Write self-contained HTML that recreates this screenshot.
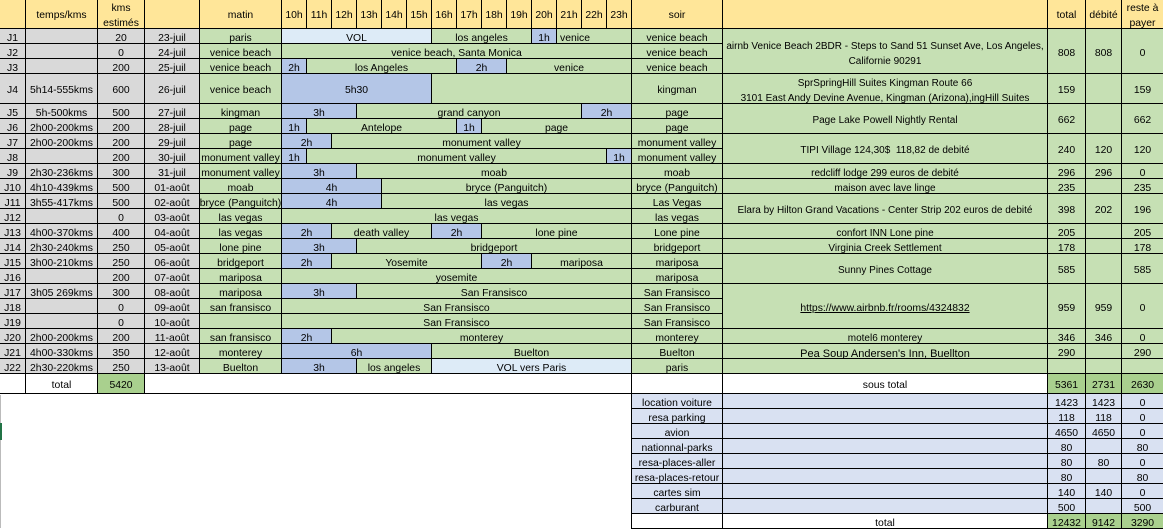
<!DOCTYPE html>
<html><head><meta charset="utf-8">
<style>
body{margin:0;background:#fff;width:1163px;height:528px;overflow:hidden;position:relative}
.g{display:grid;grid-template-columns:26px 72px 47px 55px 82px repeat(14,25px) 91px 325px 38px 36px 41px;grid-template-rows:29px 15px 15px 15px 30px repeat(18,15px) 20px repeat(8,15px) 15px;position:absolute;left:0;top:0;font-family:"Liberation Sans",Arial,sans-serif;font-size:10.4px;color:#000}
.g>div{box-sizing:border-box;border-right:1px solid #000;border-bottom:1px solid #000;display:flex;align-items:center;justify-content:center;white-space:nowrap;line-height:12px;padding-top:5px}
.g span{display:block;text-align:center;line-height:15px}
.h{background:#ffe699}.y{background:#d9d9d9}.e{background:#c6e0b4}.b{background:#b4c6e7}.l{background:#ddebf7}.d{background:#a9d08e}.v{background:#d9e1f2}
.g>div.nr{border-right:none}
.g>div.h{padding-top:3px}
.t{font-size:10px}
</style></head><body>
<div class="g">
<!-- header -->
<div class="h" style="grid-area:1/1/2/2"></div>
<div class="h" style="grid-area:1/2/2/3">temps/kms</div>
<div class="h" style="grid-area:1/3/2/4"><span>kms<br>estimés</span></div>
<div class="h" style="grid-area:1/4/2/5"></div>
<div class="h" style="grid-area:1/5/2/6">matin</div>
<div class="h" style="grid-area:1/6/2/7">10h</div>
<div class="h" style="grid-area:1/7/2/8">11h</div>
<div class="h" style="grid-area:1/8/2/9">12h</div>
<div class="h" style="grid-area:1/9/2/10">13h</div>
<div class="h" style="grid-area:1/10/2/11">14h</div>
<div class="h" style="grid-area:1/11/2/12">15h</div>
<div class="h" style="grid-area:1/12/2/13">16h</div>
<div class="h" style="grid-area:1/13/2/14">17h</div>
<div class="h" style="grid-area:1/14/2/15">18h</div>
<div class="h" style="grid-area:1/15/2/16">19h</div>
<div class="h" style="grid-area:1/16/2/17">20h</div>
<div class="h" style="grid-area:1/17/2/18">21h</div>
<div class="h" style="grid-area:1/18/2/19">22h</div>
<div class="h" style="grid-area:1/19/2/20">23h</div>
<div class="h" style="grid-area:1/20/2/21">soir</div>
<div class="h" style="grid-area:1/21/2/22"></div>
<div class="h" style="grid-area:1/22/2/23">total</div>
<div class="h" style="grid-area:1/23/2/24">débité</div>
<div class="h nr" style="grid-area:1/24/2/25"><span>reste à<br>payer</span></div>

<!-- left gray columns -->
<div class="y" style="grid-area:2/1/3/2">J1</div><div class="y" style="grid-area:2/2/3/3"></div><div class="y" style="grid-area:2/3/3/4">20</div><div class="y" style="grid-area:2/4/3/5">23-juil</div><div class="e" style="grid-area:2/5/3/6">paris</div>
<div class="y" style="grid-area:3/1/4/2">J2</div><div class="y" style="grid-area:3/2/4/3"></div><div class="y" style="grid-area:3/3/4/4">0</div><div class="y" style="grid-area:3/4/4/5">24-juil</div><div class="e" style="grid-area:3/5/4/6">venice beach</div>
<div class="y" style="grid-area:4/1/5/2">J3</div><div class="y" style="grid-area:4/2/5/3"></div><div class="y" style="grid-area:4/3/5/4">200</div><div class="y" style="grid-area:4/4/5/5">25-juil</div><div class="e" style="grid-area:4/5/5/6">venice beach</div>
<div class="y" style="grid-area:5/1/6/2">J4</div><div class="y" style="grid-area:5/2/6/3">5h14-555kms</div><div class="y" style="grid-area:5/3/6/4">600</div><div class="y" style="grid-area:5/4/6/5">26-juil</div><div class="e" style="grid-area:5/5/6/6">venice beach</div>
<div class="y" style="grid-area:6/1/7/2">J5</div><div class="y" style="grid-area:6/2/7/3">5h-500kms</div><div class="y" style="grid-area:6/3/7/4">500</div><div class="y" style="grid-area:6/4/7/5">27-juil</div><div class="e" style="grid-area:6/5/7/6">kingman</div>
<div class="y" style="grid-area:7/1/8/2">J6</div><div class="y" style="grid-area:7/2/8/3">2h00-200kms</div><div class="y" style="grid-area:7/3/8/4">200</div><div class="y" style="grid-area:7/4/8/5">28-juil</div><div class="e" style="grid-area:7/5/8/6">page</div>
<div class="y" style="grid-area:8/1/9/2">J7</div><div class="y" style="grid-area:8/2/9/3">2h00-200kms</div><div class="y" style="grid-area:8/3/9/4">200</div><div class="y" style="grid-area:8/4/9/5">29-juil</div><div class="e" style="grid-area:8/5/9/6">page</div>
<div class="y" style="grid-area:9/1/10/2">J8</div><div class="y" style="grid-area:9/2/10/3"></div><div class="y" style="grid-area:9/3/10/4">200</div><div class="y" style="grid-area:9/4/10/5">30-juil</div><div class="e" style="grid-area:9/5/10/6">monument valley</div>
<div class="y" style="grid-area:10/1/11/2">J9</div><div class="y" style="grid-area:10/2/11/3">2h30-236kms</div><div class="y" style="grid-area:10/3/11/4">300</div><div class="y" style="grid-area:10/4/11/5">31-juil</div><div class="e" style="grid-area:10/5/11/6">monument valley</div>
<div class="y" style="grid-area:11/1/12/2">J10</div><div class="y" style="grid-area:11/2/12/3">4h10-439kms</div><div class="y" style="grid-area:11/3/12/4">500</div><div class="y" style="grid-area:11/4/12/5">01-août</div><div class="e" style="grid-area:11/5/12/6">moab</div>
<div class="y" style="grid-area:12/1/13/2">J11</div><div class="y" style="grid-area:12/2/13/3">3h55-417kms</div><div class="y" style="grid-area:12/3/13/4">500</div><div class="y" style="grid-area:12/4/13/5">02-août</div><div class="e" style="grid-area:12/5/13/6">bryce (Panguitch)</div>
<div class="y" style="grid-area:13/1/14/2">J12</div><div class="y" style="grid-area:13/2/14/3"></div><div class="y" style="grid-area:13/3/14/4">0</div><div class="y" style="grid-area:13/4/14/5">03-août</div><div class="e" style="grid-area:13/5/14/6">las vegas</div>
<div class="y" style="grid-area:14/1/15/2">J13</div><div class="y" style="grid-area:14/2/15/3">4h00-370kms</div><div class="y" style="grid-area:14/3/15/4">400</div><div class="y" style="grid-area:14/4/15/5">04-août</div><div class="e" style="grid-area:14/5/15/6">las vegas</div>
<div class="y" style="grid-area:15/1/16/2">J14</div><div class="y" style="grid-area:15/2/16/3">2h30-240kms</div><div class="y" style="grid-area:15/3/16/4">250</div><div class="y" style="grid-area:15/4/16/5">05-août</div><div class="e" style="grid-area:15/5/16/6">lone pine</div>
<div class="y" style="grid-area:16/1/17/2">J15</div><div class="y" style="grid-area:16/2/17/3">3h00-210kms</div><div class="y" style="grid-area:16/3/17/4">250</div><div class="y" style="grid-area:16/4/17/5">06-août</div><div class="e" style="grid-area:16/5/17/6">bridgeport</div>
<div class="y" style="grid-area:17/1/18/2">J16</div><div class="y" style="grid-area:17/2/18/3"></div><div class="y" style="grid-area:17/3/18/4">200</div><div class="y" style="grid-area:17/4/18/5">07-août</div><div class="e" style="grid-area:17/5/18/6">mariposa</div>
<div class="y" style="grid-area:18/1/19/2">J17</div><div class="y" style="grid-area:18/2/19/3">3h05 269kms</div><div class="y" style="grid-area:18/3/19/4">300</div><div class="y" style="grid-area:18/4/19/5">08-août</div><div class="e" style="grid-area:18/5/19/6">mariposa</div>
<div class="y" style="grid-area:19/1/20/2">J18</div><div class="y" style="grid-area:19/2/20/3"></div><div class="y" style="grid-area:19/3/20/4">0</div><div class="y" style="grid-area:19/4/20/5">09-août</div><div class="e" style="grid-area:19/5/20/6">san fransisco</div>
<div class="y" style="grid-area:20/1/21/2">J19</div><div class="y" style="grid-area:20/2/21/3"></div><div class="y" style="grid-area:20/3/21/4">0</div><div class="y" style="grid-area:20/4/21/5">10-août</div><div class="e" style="grid-area:20/5/21/6"></div>
<div class="y" style="grid-area:21/1/22/2">J20</div><div class="y" style="grid-area:21/2/22/3">2h00-200kms</div><div class="y" style="grid-area:21/3/22/4">200</div><div class="y" style="grid-area:21/4/22/5">11-août</div><div class="e" style="grid-area:21/5/22/6">san fransisco</div>
<div class="y" style="grid-area:22/1/23/2">J21</div><div class="y" style="grid-area:22/2/23/3">4h00-330kms</div><div class="y" style="grid-area:22/3/23/4">350</div><div class="y" style="grid-area:22/4/23/5">12-août</div><div class="e" style="grid-area:22/5/23/6">monterey</div>
<div class="y" style="grid-area:23/1/24/2">J22</div><div class="y" style="grid-area:23/2/24/3">2h30-220kms</div><div class="y" style="grid-area:23/3/24/4">250</div><div class="y" style="grid-area:23/4/24/5">13-août</div><div class="e" style="grid-area:23/5/24/6">Buelton</div>

<!-- hours -->
<div class="l" style="grid-area:2/6/3/12">VOL</div><div class="e" style="grid-area:2/12/3/16">los angeles</div><div class="b" style="grid-area:2/16/3/17">1h</div><div class="e" style="grid-area:2/17/3/20;justify-content:flex-start;padding-left:3px">venice</div>
<div class="e" style="grid-area:3/6/4/20">venice beach, Santa Monica</div>
<div class="b" style="grid-area:4/6/5/7">2h</div><div class="e" style="grid-area:4/7/5/13">los Angeles</div><div class="b" style="grid-area:4/13/5/15">2h</div><div class="e" style="grid-area:4/15/5/20">venice</div>
<div class="b" style="grid-area:5/6/6/12">5h30</div><div class="e" style="grid-area:5/12/6/20"></div>
<div class="b" style="grid-area:6/6/7/9">3h</div><div class="e" style="grid-area:6/9/7/18">grand canyon</div><div class="b" style="grid-area:6/18/7/20">2h</div>
<div class="b" style="grid-area:7/6/8/7">1h</div><div class="e" style="grid-area:7/7/8/13">Antelope</div><div class="b" style="grid-area:7/13/8/14">1h</div><div class="e" style="grid-area:7/14/8/20">page</div>
<div class="b" style="grid-area:8/6/9/8">2h</div><div class="e" style="grid-area:8/8/9/20">monument valley</div>
<div class="b" style="grid-area:9/6/10/7">1h</div><div class="e" style="grid-area:9/7/10/19">monument valley</div><div class="b" style="grid-area:9/19/10/20">1h</div>
<div class="b" style="grid-area:10/6/11/9">3h</div><div class="e" style="grid-area:10/9/11/20">moab</div>
<div class="b" style="grid-area:11/6/12/10">4h</div><div class="e" style="grid-area:11/10/12/20">bryce (Panguitch)</div>
<div class="b" style="grid-area:12/6/13/10">4h</div><div class="e" style="grid-area:12/10/13/20">las vegas</div>
<div class="e" style="grid-area:13/6/14/20">las vegas</div>
<div class="b" style="grid-area:14/6/15/8">2h</div><div class="e" style="grid-area:14/8/15/12">death valley</div><div class="b" style="grid-area:14/12/15/14">2h</div><div class="e" style="grid-area:14/14/15/20">lone pine</div>
<div class="b" style="grid-area:15/6/16/9">3h</div><div class="e" style="grid-area:15/9/16/20">bridgeport</div>
<div class="b" style="grid-area:16/6/17/8">2h</div><div class="e" style="grid-area:16/8/17/14">Yosemite</div><div class="b" style="grid-area:16/14/17/16">2h</div><div class="e" style="grid-area:16/16/17/20">mariposa</div>
<div class="e" style="grid-area:17/6/18/20">yosemite</div>
<div class="b" style="grid-area:18/6/19/9">3h</div><div class="e" style="grid-area:18/9/19/20">San Fransisco</div>
<div class="e" style="grid-area:19/6/20/20">San Fransisco</div>
<div class="e" style="grid-area:20/6/21/20">San Fransisco</div>
<div class="b" style="grid-area:21/6/22/8">2h</div><div class="e" style="grid-area:21/8/22/20">monterey</div>
<div class="b" style="grid-area:22/6/23/12">6h</div><div class="e" style="grid-area:22/12/23/20">Buelton</div>
<div class="b" style="grid-area:23/6/24/9">3h</div><div class="e" style="grid-area:23/9/24/12">los angeles</div><div class="l" style="grid-area:23/12/24/20">VOL vers Paris</div>

<!-- soir -->
<div class="e" style="grid-area:2/20/3/21">venice beach</div>
<div class="e" style="grid-area:3/20/4/21">venice beach</div>
<div class="e" style="grid-area:4/20/5/21">venice beach</div>
<div class="e" style="grid-area:5/20/6/21">kingman</div>
<div class="e" style="grid-area:6/20/7/21">page</div>
<div class="e" style="grid-area:7/20/8/21">page</div>
<div class="e" style="grid-area:8/20/9/21">monument valley</div>
<div class="e" style="grid-area:9/20/10/21">monument valley</div>
<div class="e" style="grid-area:10/20/11/21">moab</div>
<div class="e" style="grid-area:11/20/12/21">bryce (Panguitch)</div>
<div class="e" style="grid-area:12/20/13/21">Las Vegas</div>
<div class="e" style="grid-area:13/20/14/21">las vegas</div>
<div class="e" style="grid-area:14/20/15/21">Lone pine</div>
<div class="e" style="grid-area:15/20/16/21">bridgeport</div>
<div class="e" style="grid-area:16/20/17/21">mariposa</div>
<div class="e" style="grid-area:17/20/18/21">mariposa</div>
<div class="e" style="grid-area:18/20/19/21">San Fransisco</div>
<div class="e" style="grid-area:19/20/20/21">San Fransisco</div>
<div class="e" style="grid-area:20/20/21/21">San Fransisco</div>
<div class="e" style="grid-area:21/20/22/21">monterey</div>
<div class="e" style="grid-area:22/20/23/21">Buelton</div>
<div class="e" style="grid-area:23/20/24/21">paris</div>

<!-- hotels -->
<div class="e t" style="grid-area:2/21/5/22"><span>airnb Venice Beach 2BDR - Steps to Sand 51 Sunset Ave, Los Angeles,<br>Californie 90291</span></div>
<div class="e" style="grid-area:2/22/5/23">808</div><div class="e" style="grid-area:2/23/5/24">808</div><div class="e nr" style="grid-area:2/24/5/25">0</div>
<div class="e t" style="grid-area:5/21/6/22"><span>SprSpringHill Suites Kingman Route 66<br>3101 East Andy Devine Avenue, Kingman (Arizona),ingHill Suites</span></div>
<div class="e" style="grid-area:5/22/6/23">159</div><div class="e" style="grid-area:5/23/6/24"></div><div class="e nr" style="grid-area:5/24/6/25">159</div>
<div class="e t" style="grid-area:6/21/8/22">Page Lake Powell Nightly Rental</div>
<div class="e" style="grid-area:6/22/8/23">662</div><div class="e" style="grid-area:6/23/8/24"></div><div class="e nr" style="grid-area:6/24/8/25">662</div>
<div class="e t" style="grid-area:8/21/10/22">TIPI Village 124,30$&nbsp; 118,82 de debité</div>
<div class="e" style="grid-area:8/22/10/23">240</div><div class="e" style="grid-area:8/23/10/24">120</div><div class="e nr" style="grid-area:8/24/10/25">120</div>
<div class="e t" style="grid-area:10/21/11/22">redcliff lodge 299 euros de debité</div>
<div class="e" style="grid-area:10/22/11/23">296</div><div class="e" style="grid-area:10/23/11/24">296</div><div class="e nr" style="grid-area:10/24/11/25">0</div>
<div class="e t" style="grid-area:11/21/12/22">maison avec lave linge</div>
<div class="e" style="grid-area:11/22/12/23">235</div><div class="e" style="grid-area:11/23/12/24"></div><div class="e nr" style="grid-area:11/24/12/25">235</div>
<div class="e t" style="grid-area:12/21/14/22">Elara by Hilton Grand Vacations - Center Strip 202 euros de debité</div>
<div class="e" style="grid-area:12/22/14/23">398</div><div class="e" style="grid-area:12/23/14/24">202</div><div class="e nr" style="grid-area:12/24/14/25">196</div>
<div class="e t" style="grid-area:14/21/15/22">confort INN Lone pine</div>
<div class="e" style="grid-area:14/22/15/23">205</div><div class="e" style="grid-area:14/23/15/24"></div><div class="e nr" style="grid-area:14/24/15/25">205</div>
<div class="e t" style="grid-area:15/21/16/22">Virginia Creek Settlement</div>
<div class="e" style="grid-area:15/22/16/23">178</div><div class="e" style="grid-area:15/23/16/24"></div><div class="e nr" style="grid-area:15/24/16/25">178</div>
<div class="e t" style="grid-area:16/21/18/22">Sunny Pines Cottage</div>
<div class="e" style="grid-area:16/22/18/23">585</div><div class="e" style="grid-area:16/23/18/24"></div><div class="e nr" style="grid-area:16/24/18/25">585</div>
<div class="e" style="grid-area:18/21/21/22;text-decoration:underline">https://www.airbnb.fr/rooms/4324832</div>
<div class="e" style="grid-area:18/22/21/23">959</div><div class="e" style="grid-area:18/23/21/24">959</div><div class="e nr" style="grid-area:18/24/21/25">0</div>
<div class="e t" style="grid-area:21/21/22/22">motel6 monterey</div>
<div class="e" style="grid-area:21/22/22/23">346</div><div class="e" style="grid-area:21/23/22/24">346</div><div class="e nr" style="grid-area:21/24/22/25">0</div>
<div class="e" style="grid-area:22/21/23/22;font-size:11px">Pea Soup Andersen's Inn, Buellton</div>
<div class="e" style="grid-area:22/22/23/23">290</div><div class="e" style="grid-area:22/23/23/24"></div><div class="e nr" style="grid-area:22/24/23/25">290</div>
<div class="e" style="grid-area:23/21/24/22"></div>
<div class="e" style="grid-area:23/22/24/23"></div><div class="e" style="grid-area:23/23/24/24"></div><div class="e nr" style="grid-area:23/24/24/25"></div>

<!-- total row -->
<div style="grid-area:24/1/25/2"></div>
<div style="grid-area:24/2/25/3">total</div>
<div class="d" style="grid-area:24/3/25/4">5420</div>
<div style="grid-area:24/4/25/20"></div>
<div style="grid-area:24/20/25/21"></div>
<div style="grid-area:24/21/25/22">sous total</div>
<div class="d" style="grid-area:24/22/25/23">5361</div>
<div class="d" style="grid-area:24/23/25/24">2731</div>
<div class="d nr" style="grid-area:24/24/25/25">2630</div>

<!-- lower section -->
<div style="grid-area:25/1/35/20;border-bottom:none"></div>
<div class="v" style="grid-area:25/20/26/21">location voiture</div><div class="v" style="grid-area:25/21/26/22"></div><div class="v" style="grid-area:25/22/26/23">1423</div><div class="v" style="grid-area:25/23/26/24">1423</div><div class="v nr" style="grid-area:25/24/26/25">0</div>
<div class="v" style="grid-area:26/20/27/21">resa parking</div><div class="v" style="grid-area:26/21/27/22"></div><div class="v" style="grid-area:26/22/27/23">118</div><div class="v" style="grid-area:26/23/27/24">118</div><div class="v nr" style="grid-area:26/24/27/25">0</div>
<div class="v" style="grid-area:27/20/28/21">avion</div><div class="v" style="grid-area:27/21/28/22"></div><div class="v" style="grid-area:27/22/28/23">4650</div><div class="v" style="grid-area:27/23/28/24">4650</div><div class="v nr" style="grid-area:27/24/28/25">0</div>
<div class="v" style="grid-area:28/20/29/21">nationnal-parks</div><div class="v" style="grid-area:28/21/29/22"></div><div class="v" style="grid-area:28/22/29/23">80</div><div class="v" style="grid-area:28/23/29/24"></div><div class="v nr" style="grid-area:28/24/29/25">80</div>
<div class="v" style="grid-area:29/20/30/21">resa-places-aller</div><div class="v" style="grid-area:29/21/30/22"></div><div class="v" style="grid-area:29/22/30/23">80</div><div class="v" style="grid-area:29/23/30/24">80</div><div class="v nr" style="grid-area:29/24/30/25">0</div>
<div class="v" style="grid-area:30/20/31/21">resa-places-retour</div><div class="v" style="grid-area:30/21/31/22"></div><div class="v" style="grid-area:30/22/31/23">80</div><div class="v" style="grid-area:30/23/31/24"></div><div class="v nr" style="grid-area:30/24/31/25">80</div>
<div class="v" style="grid-area:31/20/32/21">cartes sim</div><div class="v" style="grid-area:31/21/32/22"></div><div class="v" style="grid-area:31/22/32/23">140</div><div class="v" style="grid-area:31/23/32/24">140</div><div class="v nr" style="grid-area:31/24/32/25">0</div>
<div class="v" style="grid-area:32/20/33/21">carburant</div><div class="v" style="grid-area:32/21/33/22"></div><div class="v" style="grid-area:32/22/33/23">500</div><div class="v" style="grid-area:32/23/33/24"></div><div class="v nr" style="grid-area:32/24/33/25">500</div>
<div style="grid-area:33/20/34/21"></div>
<div style="grid-area:33/21/34/22">total</div>
<div class="d" style="grid-area:33/22/34/23">12432</div>
<div class="d" style="grid-area:33/23/34/24">9142</div>
<div class="d nr" style="grid-area:33/24/34/25">3290</div>
</div>
<div style="position:absolute;left:0;top:395px;width:1px;height:133px;background:#bbb"></div>
<div style="position:absolute;left:0;top:423px;width:2px;height:17px;background:#217346"></div>
</body></html>
